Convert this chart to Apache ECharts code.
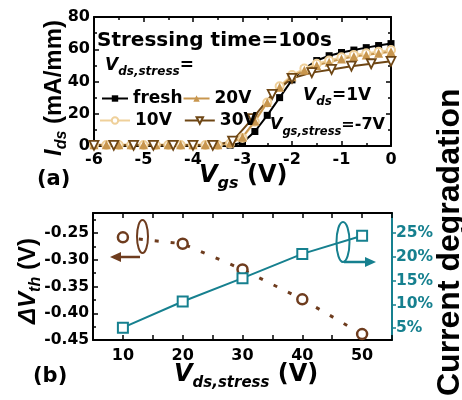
<!DOCTYPE html>
<html><head><meta charset="utf-8">
<script src="https://cdn.jsdelivr.net/npm/echarts@6/dist/echarts.min.js"></script>
<style>html,body{margin:0;padding:0;background:#fff}#c{width:462px;height:400px}</style>
</head><body><div id="c"></div>
<script>
// ---- data (a) ----
const vgsFine = [-6,-5.75,-5.5,-5.25,-5,-4.75,-4.5,-4.25,-4,-3.75,-3.5,-3.25,-3,-2.75,-2.5,-2.25,-2,-1.75,-1.5,-1.25,-1,-0.75,-0.5,-0.25,0];
const vgsCoarse = [-6,-5.6,-5.2,-4.8,-4.4,-4,-3.6,-3.2,-2.8,-2.4,-2,-1.6,-1.2,-0.8,-0.4,0];
const idsFresh = [0.3,0.3,0.3,0.3,0.3,0.3,0.3,0.3,0.3,0.3,0.3,0.5,2,9,19,30,41,48,53,56,58,59.5,61,62.3,63.5];
const ids10V = [0.6,0.6,0.6,0.6,0.6,0.6,0.6,0.6,0.6,0.6,0.6,1.5,5,15,27,37,44,48,51,53,55,56.5,57.5,58.5,59.5];
const ids20V = [0.8,0.8,0.8,0.8,0.8,0.8,0.8,0.8,0.8,0.8,0.8,1.8,5.5,15.5,27,36.5,43,47,50,52,54,55.5,56.5,57.5,58.5];
const ids30V = [0.4,0.4,0.4,0.4,0.4,0.4,0.4,3,17,32,42,45.5,47.5,49.5,51,52.5];
// ---- data (b) ----
const vdsStress = [10,20,30,40,50];
const dVth = [-0.258,-0.27,-0.318,-0.374,-0.439];
const currDeg = [5.1,10.6,15.5,20.6,24.4];
const degTicks = [5,10,15,20,25];

const F = 'DejaVu Sans';
const TEAL = '#16808f', BROWN = '#6e3c1e';
const C10 = '#efd09a', C20 = '#c8964e', C30 = '#6e4614';

const ctx = document.createElement('canvas').getContext('2d');
function fnt(p){ return (p.i?'italic ':'') + 'bold ' + p.s + 'px "' + (p.f||F) + '"'; }
function tw(t, font){ ctx.font = font; return ctx.measureText(t).width; }
function rich(x, y, parts, rot, color){
  const children = []; let cx = 0;
  parts.forEach(p => {
    const font = fnt(p);
    children.push({type:'text', x:cx, y:(p.dy||0), style:{text:p.t, font:font, fill:color||'#000', align:'left', verticalAlign:'middle'}});
    cx += tw(p.t, font);
  });
  return {type:'group', x:x, y:y, rotation:rot||0, children:children, silent:true};
}

function ax(extra){
  return Object.assign({
    type:'value', splitLine:{show:false},
    axisLine:{onZero:false, lineStyle:{color:'#000', width:2}},
    axisTick:{inside:true, length:5, lineStyle:{color:'#000', width:1.5}},
    axisLabel:{color:'#000', fontFamily:F, fontWeight:'bold', fontSize:16, margin:6}
  }, extra);
}
const legendText = {fontFamily:F, fontWeight:'bold', fontSize:17, color:'#000'};

const option = {
  animation:false,
  grid:[{left:94, top:17, width:297, height:129},{left:93, top:213, width:299, height:127}],
  legend:[
    {data:['fresh','20V'], left:96, top:85, itemWidth:26, itemHeight:8, itemGap:0, textStyle:legendText},
    {data:['10V','30V'], left:94, top:107, itemWidth:30, itemHeight:8, itemGap:12, textStyle:legendText}
  ],
  xAxis:[
    ax({gridIndex:0, min:-6, max:0, interval:1, position:'bottom', minorTick:{show:true, splitNumber:2, length:3, lineStyle:{color:'#000', width:1.5}}}),
    ax({gridIndex:0, min:-6, max:0, interval:1, position:'top', axisLabel:{show:false}, minorTick:{show:true, splitNumber:2, length:3, lineStyle:{color:'#000', width:1.5}}}),
    ax({gridIndex:1, min:5, max:55, interval:5, position:'bottom',
        axisLabel:{color:'#000', fontFamily:F, fontWeight:'bold', fontSize:16, margin:8, formatter:v => (v % 10 === 0 ? String(v) : '')}}),
    ax({gridIndex:1, min:5, max:55, interval:5, position:'top', axisLabel:{show:false}})
  ],
  yAxis:[
    ax({gridIndex:0, min:0, max:80, interval:20, position:'left', axisLabel:{color:'#000', fontFamily:F, fontWeight:'bold', fontSize:16, margin:4},
        minorTick:{show:true, splitNumber:2, length:3, lineStyle:{color:'#000', width:1.5}}}),
    ax({gridIndex:0, min:0, max:80, interval:20, position:'right', axisLabel:{show:false},
        minorTick:{show:true, splitNumber:2, length:3, lineStyle:{color:'#000', width:1.5}}}),
    ax({gridIndex:1, min:-0.45, max:-0.2125, interval:0.05, position:'left',
        axisLabel:{color:'#000', fontFamily:F, fontWeight:'bold', fontSize:15.5, margin:4,
          formatter:v => (Math.abs(v*20 - Math.round(v*20)) < 1e-6 ? v.toFixed(2) : '')},
        minorTick:{show:true, splitNumber:2, length:3, lineStyle:{color:'#000', width:1.5}}}),
    ax({gridIndex:1, min:2.5, max:29.2, position:'right',
        axisLine:{onZero:false, lineStyle:{color:TEAL, width:2}},
        axisTick:{inside:false, length:4, customValues:degTicks, lineStyle:{color:TEAL, width:1.5}},
        axisLabel:{customValues:degTicks, color:TEAL, fontFamily:F, fontWeight:'bold', fontSize:15.5, margin:4, formatter:v => v + '%'}})
  ],
  series:[
    {name:'fresh', type:'line', xAxisIndex:0, yAxisIndex:0, data:vgsFine.map((v,i)=>[v, idsFresh[i]]),
     symbol:'rect', symbolSize:7, itemStyle:{color:'#000'}, lineStyle:{color:'#000', width:2}},
    {name:'10V', type:'line', xAxisIndex:0, yAxisIndex:0, data:vgsFine.map((v,i)=>[v, ids10V[i]]),
     symbol:'circle', symbolSize:8, itemStyle:{color:'#fff', borderColor:C10, borderWidth:2}, lineStyle:{color:C10, width:2}},
    {name:'20V', type:'line', xAxisIndex:0, yAxisIndex:0, data:vgsFine.map((v,i)=>[v, ids20V[i]]),
     symbol:'triangle', symbolSize:9, itemStyle:{color:C20}, lineStyle:{color:C20, width:2}},
    {name:'30V', type:'line', xAxisIndex:0, yAxisIndex:0, data:vgsCoarse.map((v,i)=>[v, ids30V[i]]),
     symbol:'triangle', symbolRotate:180, symbolSize:9, itemStyle:{color:'#fff', borderColor:C30, borderWidth:1.8}, lineStyle:{color:C30, width:2}},
    {name:'dVth', type:'line', xAxisIndex:2, yAxisIndex:2, data:vdsStress.map((v,i)=>[v, dVth[i]]),
     symbol:'circle', symbolSize:10, itemStyle:{color:'#fff', borderColor:BROWN, borderWidth:2.5},
     lineStyle:{color:BROWN, width:3, type:[4,12]}},
    {name:'deg', type:'line', xAxisIndex:2, yAxisIndex:3, data:vdsStress.map((v,i)=>[v, currDeg[i]]),
     symbol:'rect', symbolSize:10, itemStyle:{color:'#fff', borderColor:TEAL, borderWidth:2}, lineStyle:{color:TEAL, width:2}}
  ],
  graphic:[
    rich(97, 41, [{t:'Stressing time=100s', s:20}]),
    rich(105, 66, [{t:'V', s:17, i:1},{t:'ds,stress', s:12, i:1, dy:6},{t:'=', s:17}]),
    rich(303, 96, [{t:'V', s:17, i:1},{t:'ds', s:12, i:1, dy:6},{t:'=1V', s:17}]),
    rich(270, 125, [{t:'V', s:16, i:1},{t:'gs,stress', s:11.5, i:1, dy:7},{t:'=-7V', s:16}]),
    rich(37, 180, [{t:'(a)', s:21}]),
    rich(199, 176, [{t:'V', s:24, i:1},{t:'gs', s:16, i:1, dy:8},{t:' (V)', s:24}]),
    rich(54, 156, [{t:'I', s:24, i:1, f:'Liberation Sans'},{t:'ds', s:16, i:1, f:'Liberation Sans', dy:8},{t:' (mA/mm)', s:24, f:'Liberation Sans'}], Math.PI/2),
    rich(33, 377, [{t:'(b)', s:21}]),
    rich(28, 324, [{t:'\u0394V', s:24, i:1, f:'Liberation Sans'},{t:'th', s:16, i:1, f:'Liberation Sans', dy:8},{t:' (V)', s:24, f:'Liberation Sans'}], Math.PI/2),
    rich(174, 375, [{t:'V', s:24, i:1},{t:'ds,stress', s:15, i:1, dy:8},{t:' (V)', s:24}]),
    rich(450, 396, [{t:'Current degradation', s:32, f:'Liberation Sans'}], Math.PI/2),
    {type:'ellipse', shape:{cx:142.5, cy:236.5, rx:5.5, ry:16.5}, style:{fill:'none', stroke:BROWN, lineWidth:2}, silent:true},
    {type:'line', shape:{x1:140, y1:257, x2:118, y2:257}, style:{stroke:BROWN, lineWidth:2.5}, silent:true},
    {type:'polygon', shape:{points:[[110,257],[121,252],[121,262]]}, style:{fill:BROWN}, silent:true},
    {type:'ellipse', shape:{cx:343, cy:242, rx:6.5, ry:20}, style:{fill:'none', stroke:TEAL, lineWidth:2}, silent:true},
    {type:'line', shape:{x1:344, y1:262, x2:368, y2:262}, style:{stroke:TEAL, lineWidth:2.5}, silent:true},
    {type:'polygon', shape:{points:[[376,262],[365,257],[365,267]]}, style:{fill:TEAL}, silent:true}
  ]
};
const chart = echarts.init(document.getElementById('c'), null, {renderer:'canvas'});
chart.setOption(option);
</script></body></html>
